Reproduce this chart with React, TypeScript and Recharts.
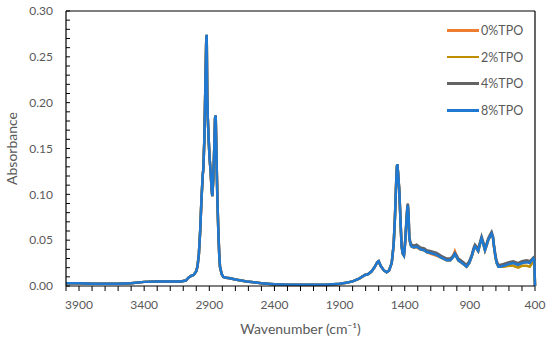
import React from "react";
import { Legend, Line, LineChart, ReferenceLine, XAxis, YAxis } from "recharts";

// wavenumber (cm-1)
const wavenumbers = [
  4000, 3900, 3800, 3700, 3600, 3500, 3400, 3300, 3200, 3120,
  3080, 3060, 3040, 3020, 3000, 2990, 2980, 2970, 2960, 2950,
  2946, 2938, 2930, 2924, 2920, 2916, 2912, 2905, 2898, 2890,
  2882, 2877, 2870, 2862, 2856, 2851, 2846, 2838, 2831, 2824,
  2818, 2805, 2793, 2770, 2741, 2700, 2613, 2500, 2400, 2300,
  2200, 2100, 2000, 1900, 1850, 1800, 1750, 1705, 1680, 1654,
  1630, 1610, 1600, 1585, 1560, 1539, 1520, 1500, 1485, 1475,
  1465, 1460, 1457, 1452, 1442, 1432, 1424, 1415, 1406, 1398,
  1390, 1380, 1376, 1370, 1365, 1355, 1347, 1330, 1309, 1280,
  1250, 1232, 1200, 1155, 1120, 1078, 1050, 1030, 1015, 1000,
  989, 960, 925, 905, 886, 870, 861, 850, 836, 822,
  810, 797, 784, 770, 759, 745, 733, 722, 715, 704,
  694, 680, 669, 640, 600, 567, 530, 500, 464, 440,
  413, 405, 400,
];

const tpo0 = [
  0.003, 0.003, 0.0025, 0.0025, 0.0025, 0.003, 0.0045, 0.005, 0.005, 0.005,
  0.006, 0.009, 0.011, 0.012, 0.016, 0.022, 0.035, 0.06, 0.095, 0.122,
  0.127, 0.16, 0.22, 0.265, 0.273, 0.21, 0.185, 0.16, 0.14, 0.125,
  0.105, 0.098, 0.115, 0.15, 0.182, 0.185, 0.15, 0.095, 0.061, 0.035,
  0.021, 0.013, 0.01, 0.009, 0.0084, 0.007, 0.005, 0.003, 0.0015, 0.001,
  0.001, 0.001, 0.001, 0.002, 0.0035, 0.005, 0.008, 0.012, 0.013, 0.016,
  0.021, 0.026, 0.027, 0.022, 0.017, 0.015, 0.017, 0.025, 0.045, 0.075,
  0.115, 0.13, 0.132, 0.125, 0.105, 0.07, 0.043, 0.035, 0.033, 0.045,
  0.063, 0.085, 0.087, 0.075, 0.052, 0.045, 0.043, 0.042, 0.042, 0.04,
  0.039, 0.037, 0.035, 0.033, 0.031, 0.028, 0.028, 0.032, 0.038, 0.032,
  0.028, 0.025, 0.021, 0.025, 0.032, 0.04, 0.043, 0.041, 0.038, 0.046,
  0.052, 0.046, 0.039, 0.045, 0.05, 0.054, 0.057, 0.052, 0.043, 0.032,
  0.025, 0.021, 0.021, 0.022, 0.024, 0.025, 0.023, 0.025, 0.026, 0.025,
  0.029, 0.027, 0.0,
];

const tpo2 = [
  0.003, 0.003, 0.0025, 0.0025, 0.0025, 0.003, 0.0045, 0.005, 0.005, 0.005,
  0.006, 0.009, 0.011, 0.012, 0.016, 0.022, 0.035, 0.06, 0.095, 0.122,
  0.127, 0.16, 0.22, 0.265, 0.274, 0.21, 0.185, 0.16, 0.14, 0.125,
  0.105, 0.098, 0.115, 0.15, 0.183, 0.186, 0.15, 0.095, 0.061, 0.035,
  0.021, 0.013, 0.01, 0.009, 0.0084, 0.007, 0.005, 0.003, 0.002, 0.0015,
  0.0015, 0.0015, 0.0015, 0.0025, 0.0035, 0.005, 0.008, 0.012, 0.013, 0.016,
  0.021, 0.026, 0.027, 0.022, 0.017, 0.015, 0.017, 0.025, 0.045, 0.075,
  0.115, 0.13, 0.133, 0.125, 0.105, 0.07, 0.043, 0.035, 0.033, 0.045,
  0.063, 0.085, 0.088, 0.075, 0.052, 0.045, 0.043, 0.042, 0.043, 0.04,
  0.039, 0.037, 0.036, 0.034, 0.031, 0.028, 0.028, 0.031, 0.035, 0.031,
  0.028, 0.025, 0.021, 0.025, 0.032, 0.04, 0.043, 0.041, 0.038, 0.046,
  0.052, 0.046, 0.039, 0.045, 0.05, 0.054, 0.057, 0.052, 0.043, 0.032,
  0.025, 0.021, 0.021, 0.021, 0.022, 0.022, 0.02, 0.022, 0.022, 0.021,
  0.027, 0.025, 0.0,
];

const tpo4 = [
  0.003, 0.003, 0.0025, 0.0025, 0.0025, 0.003, 0.0045, 0.005, 0.005, 0.005,
  0.006, 0.009, 0.011, 0.012, 0.016, 0.022, 0.035, 0.06, 0.095, 0.122,
  0.127, 0.16, 0.22, 0.265, 0.274, 0.21, 0.185, 0.16, 0.14, 0.125,
  0.105, 0.098, 0.115, 0.15, 0.183, 0.186, 0.15, 0.095, 0.061, 0.035,
  0.021, 0.013, 0.01, 0.009, 0.0084, 0.007, 0.005, 0.003, 0.002, 0.0015,
  0.0015, 0.0015, 0.0015, 0.0025, 0.0035, 0.005, 0.008, 0.012, 0.013, 0.016,
  0.021, 0.026, 0.027, 0.022, 0.017, 0.015, 0.017, 0.025, 0.045, 0.075,
  0.115, 0.13, 0.133, 0.125, 0.105, 0.07, 0.044, 0.036, 0.034, 0.046,
  0.065, 0.087, 0.09, 0.077, 0.054, 0.047, 0.045, 0.044, 0.045, 0.042,
  0.041, 0.039, 0.038, 0.036, 0.033, 0.03, 0.03, 0.033, 0.036, 0.033,
  0.03, 0.027, 0.023, 0.027, 0.034, 0.042, 0.045, 0.043, 0.04, 0.048,
  0.054, 0.048, 0.041, 0.047, 0.052, 0.056, 0.059, 0.054, 0.045, 0.034,
  0.027, 0.023, 0.023, 0.024, 0.026, 0.027, 0.025, 0.027, 0.028, 0.027,
  0.031, 0.029, 0.0,
];

const tpo8 = [
  0.003, 0.003, 0.0025, 0.0025, 0.0025, 0.003, 0.0045, 0.005, 0.005, 0.005,
  0.006, 0.009, 0.011, 0.012, 0.016, 0.022, 0.035, 0.06, 0.095, 0.122,
  0.127, 0.16, 0.22, 0.265, 0.274, 0.21, 0.185, 0.16, 0.14, 0.125,
  0.105, 0.098, 0.115, 0.15, 0.183, 0.186, 0.15, 0.095, 0.061, 0.035,
  0.021, 0.013, 0.01, 0.009, 0.0084, 0.007, 0.005, 0.003, 0.002, 0.0015,
  0.0015, 0.0015, 0.0015, 0.0025, 0.0035, 0.005, 0.008, 0.012, 0.013, 0.016,
  0.021, 0.026, 0.027, 0.022, 0.017, 0.015, 0.017, 0.025, 0.045, 0.075,
  0.115, 0.13, 0.133, 0.125, 0.105, 0.07, 0.043, 0.035, 0.033, 0.045,
  0.063, 0.085, 0.088, 0.075, 0.052, 0.045, 0.043, 0.042, 0.043, 0.04,
  0.039, 0.037, 0.036, 0.034, 0.031, 0.028, 0.028, 0.031, 0.035, 0.031,
  0.028, 0.025, 0.021, 0.025, 0.032, 0.04, 0.043, 0.041, 0.038, 0.046,
  0.052, 0.046, 0.039, 0.045, 0.05, 0.054, 0.057, 0.052, 0.043, 0.032,
  0.025, 0.021, 0.021, 0.022, 0.024, 0.025, 0.023, 0.025, 0.026, 0.025,
  0.03, 0.028, 0.0,
];

const seriesNames = ["0%TPO", "2%TPO", "4%TPO", "8%TPO"];
const seriesColors = ["#ED7D31", "#BF8F00", "#636363", "#1F78D1"];
const seriesValues = [tpo0, tpo2, tpo4, tpo8];

const xMajorTicks = [3900, 3400, 2900, 2400, 1900, 1400, 900, 400];
const yMajorTicks = [0, 0.05, 0.1, 0.15, 0.2, 0.25, 0.3];

const FONT = "Lato, 'Open Sans', sans-serif";
const TEXT = "#595959";

const data = wavenumbers.map((wn, i) => {
  const row: Record<string, number> = { wn };
  seriesNames.forEach((name, k) => {
    row[name] = seriesValues[k][i];
  });
  return row;
});

// minor ticks every 100 cm-1 and every 0.01
const xTicks: number[] = [];
for (let w = 4000; w >= 400; w -= 100) xTicks.push(w);
const yTicks: number[] = [];
for (let k = 0; k <= 30; k++) yTicks.push(k / 100);

const XTick = (props: any) => {
  const { x, y, payload } = props;
  const major = xMajorTicks.includes(payload.value);
  return (
    <g>
      <line x1={x} x2={x} y1={y} y2={y + 5} stroke="#000" strokeWidth={1} />
      {major && (
        <text x={x} y={y + 19} dy="0.35em" textAnchor="middle" fontSize={12} fill={TEXT} style={{ fontFamily: FONT }}>
          {payload.value}
        </text>
      )}
    </g>
  );
};

const YTick = (props: any) => {
  const { x, y, payload } = props;
  const major = yMajorTicks.some((t) => Math.abs(t - payload.value) < 1e-9);
  return (
    <g>
      <line x1={x} x2={x + 4} y1={y} y2={y} stroke="#000" strokeWidth={1} />
      {major && (
        <text x={x - 13} y={y} dy="0.35em" textAnchor="end" fontSize={12} fill={TEXT} style={{ fontFamily: FONT }}>
          {payload.value.toFixed(2)}
        </text>
      )}
    </g>
  );
};

const renderLegend = () => (
  <div style={{ fontFamily: FONT, fontSize: 12.5, color: TEXT }}>
    {seriesNames.map((name, k) => (
      <div key={name} style={{ display: "flex", alignItems: "center", height: 26.7 }}>
        <span style={{ display: "inline-block", width: 32, height: 2.5, background: seriesColors[k] }} />
        <span style={{ marginLeft: 2 }}>{name}</span>
      </div>
    ))}
  </div>
);

const App: React.FC = () => {
  return (
    <div style={{ position: "absolute", left: 0, top: 0 }}>
      <LineChart
        width={550}
        height={342}
        data={data}
        margin={{ top: 11, right: 15, left: 0, bottom: 0 }}
        style={{ fontFamily: FONT }}
      >
        <XAxis
          dataKey="wn"
          type="number"
          domain={[400, 4000]}
          reversed
          ticks={xTicks}
          interval={0}
          tick={<XTick />}
          tickLine={false}
          tickSize={0}
          tickMargin={0}
          height={56}
          axisLine={{ stroke: "#000", strokeWidth: 1.2 }}
          label={{
            content: (p: any) => {
              const vb = p.viewBox;
              return (
                <text x={vb.x + vb.width / 2} y={vb.y + 43} dy="0.35em" textAnchor="middle" fontSize={14} fill={TEXT} style={{ fontFamily: FONT }}>
                  Wavenumber (cm⁻¹)
                </text>
              );
            },
          }}
        />
        <YAxis
          type="number"
          domain={[0, 0.3]}
          ticks={yTicks}
          interval={0}
          tick={<YTick />}
          tickLine={false}
          tickSize={0}
          tickMargin={0}
          width={66}
          axisLine={{ stroke: "#000", strokeWidth: 1.2 }}
          label={{
            content: (p: any) => {
              const vb = p.viewBox;
              const cx = vb.x + 12;
              const cy = vb.y + vb.height / 2;
              return (
                <text x={cx} y={cy} dy="0.35em" textAnchor="middle" fontSize={14} fill={TEXT} transform={`rotate(-90, ${cx}, ${cy})`} style={{ fontFamily: FONT }}>
                  Absorbance
                </text>
              );
            },
          }}
        />
        <ReferenceLine y={0.3} stroke="#000" strokeWidth={1.2} />
        <ReferenceLine x={400} stroke="#000" strokeWidth={1.2} />
        <Legend
          layout="horizontal"
          verticalAlign="middle"
          align="center"
          content={renderLegend}
          wrapperStyle={{ top: 17, left: 447, width: 90 }}
        />
        {seriesNames.map((name, k) => (
          <Line
            key={name}
            dataKey={name}
            stroke={seriesColors[k]}
            strokeWidth={2.5}
            dot={false}
            type="linear"
            isAnimationActive={false}
          />
        ))}
      </LineChart>
    </div>
  );
};

export default App;
